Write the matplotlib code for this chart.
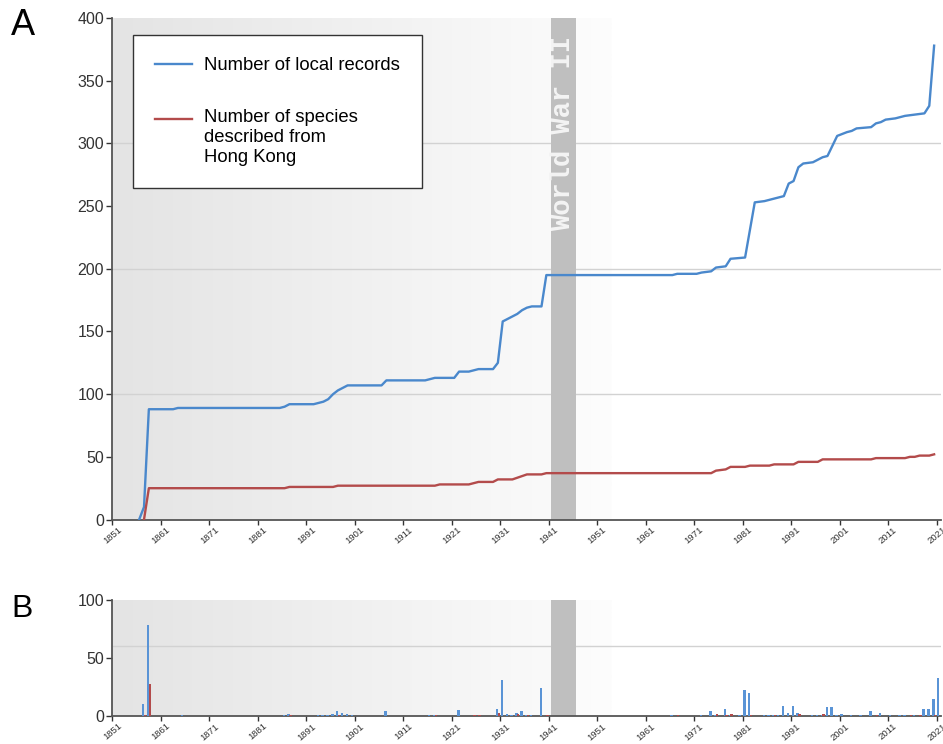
import numpy as np
import matplotlib.pyplot as plt
from matplotlib.colors import LinearSegmentedColormap

plt.rcParams['font.family'] = ['Liberation Sans', 'DejaVu Sans']

# cumulative totals, corner points of the step curves
local_years = [1856, 1857, 1858, 1863, 1864, 1885, 1886, 1887, 1892, 1894,
               1895, 1896, 1897, 1898, 1899, 1906, 1907, 1915, 1916, 1917,
               1921, 1922, 1924, 1926, 1929, 1930, 1931, 1932, 1934, 1935,
               1936, 1937, 1939, 1940, 1966, 1967, 1971, 1972, 1974, 1975,
               1977, 1978, 1981, 1982, 1983, 1985, 1987, 1989, 1990, 1991,
               1992, 1993, 1995, 1997, 1998, 2000, 2002, 2003, 2004, 2007,
               2008, 2009, 2010, 2012, 2014, 2016, 2018, 2019, 2020]
local_total = [0, 10, 88, 88, 89, 89, 90, 92, 92, 94,
               96, 100, 103, 105, 107, 107, 111, 111, 112, 113,
               113, 118, 118, 120, 120, 125, 158, 160, 164, 167,
               169, 170, 170, 195, 195, 196, 196, 197, 198, 201,
               202, 208, 209, 231, 253, 254, 256, 258, 268, 270,
               281, 284, 285, 289, 290, 306, 309, 310, 312, 313,
               316, 317, 319, 320, 322, 323, 324, 330, 378]

described_years = [1857, 1858, 1886, 1887, 1896, 1897, 1917, 1918, 1924, 1926,
                   1929, 1930, 1933, 1936, 1939, 1940, 1974, 1975, 1977, 1978,
                   1981, 1982, 1986, 1987, 1991, 1992, 1996, 1997, 2007, 2008,
                   2014, 2015, 2016, 2017, 2019, 2020]
described_total = [0, 25, 25, 26, 26, 27, 27, 28, 28, 30,
                   30, 32, 32, 36, 36, 37, 37, 39, 40, 42,
                   42, 43, 43, 44, 44, 46, 46, 48, 48, 49,
                   49, 50, 50, 51, 51, 52]

# new records per year
new_local_years = [1857, 1858, 1865, 1886, 1887, 1893, 1894, 1895, 1896, 1897,
                   1898, 1899, 1900, 1907, 1916, 1917, 1922, 1930, 1931, 1932,
                   1933, 1934, 1935, 1936, 1937, 1939, 1966, 1972, 1974, 1975,
                   1977, 1978, 1980, 1981, 1982, 1985, 1986, 1987, 1988, 1989,
                   1990, 1991, 1992, 1995, 1996, 1997, 1998, 1999, 2000, 2001,
                   2003, 2005, 2007, 2009, 2011, 2013, 2014, 2016, 2018, 2019,
                   2020, 2021]
new_local = [10, 78, 1, 1, 2, 1, 1, 1, 2, 4,
             3, 2, 1, 4, 1, 1, 5, 6, 31, 2,
             1, 3, 4, 1, 1, 24, 1, 1, 4, 1,
             6, 1, 1, 22, 20, 1, 1, 1, 1, 9,
             3, 9, 3, 1, 1, 1, 8, 8, 1, 2,
             1, 1, 4, 3, 1, 1, 1, 1, 6, 6,
             15, 33]

new_described_years = [1857, 1858, 1887, 1897, 1917, 1925, 1926, 1930, 1934, 1936,
                       1940, 1967, 1975, 1977, 1978, 1982, 1987, 1992, 1997, 2008,
                       2015, 2017, 2020]
new_described = [1, 28, 1, 1, 1, 1, 1, 3, 2, 1,
                 1, 1, 2, 1, 2, 1, 1, 2, 2, 1,
                 1, 1, 1]

tick_years = list(range(1851, 2022, 10))
war = (1941.45, 1946.6)

blue = '#4a88cc'
red = '#b34b4b'

fig = plt.figure(figsize=(9.43, 7.44), dpi=100)
axA = fig.add_axes([0.1193, 0.3017, 0.879, 0.674])
axB = fig.add_axes([0.1193, 0.0376, 0.879, 0.156])

fade = LinearSegmentedColormap.from_list('fade', ['#e4e4e4', '#fdfdfd'])


def frame(ax, top, yticks, grid):
    ax.imshow(np.linspace(0, 1, 256)[None, :], cmap=fade, aspect='auto',
              extent=(1851, 1954, 0, top), zorder=0)
    ax.set_xlim(1851, 2022)
    ax.set_ylim(0, top)
    for g in grid:
        ax.axhline(g, color='#d2d2d2', lw=1, zorder=1)
    ax.axvspan(*war, color='#bfbfbf', lw=0, zorder=2)
    ax.set_xticks(tick_years)
    ax.set_xticklabels([str(y) for y in tick_years], rotation=40,
                       fontsize=6.8, ha='center')
    ax.set_yticks(yticks)
    ax.tick_params(axis='x', length=3.5, width=1, pad=0.5, colors='#333333')
    ax.tick_params(axis='y', length=4, width=1, pad=2, labelsize=11.5,
                   colors='#333333')
    for s in ('top', 'right'):
        ax.spines[s].set_visible(False)
    for s in ('left', 'bottom'):
        ax.spines[s].set_color('#555555')
        ax.spines[s].set_linewidth(1.3)


frame(axA, 400, range(0, 401, 50), [100, 200, 300])
frame(axB, 100, [0, 50, 100], [60])

axA.plot(np.array(local_years) + 0.5, local_total, color=blue, lw=1.7,
         zorder=3, label='Number of local records')
axA.plot(np.array(described_years) + 0.5, described_total, color=red, lw=1.7,
         zorder=3, label='Number of species\ndescribed from\nHong Kong')

axA.text(sum(war) / 2, 308, 'World War II', rotation=90, ha='center',
         va='center', family='Liberation Mono', weight='bold', fontsize=19.5,
         color='#f4f4f4', zorder=4)

leg = axA.legend(loc='upper left', bbox_to_anchor=(0.0247, 0.966),
                 frameon=True, fancybox=False, edgecolor='#333333',
                 framealpha=1, fontsize=13.3, borderpad=1.2,
                 labelspacing=1.9, handlelength=2.0, handletextpad=0.65,
                 borderaxespad=0)
leg.get_frame().set_linewidth(1.0)
# put the red handle next to the first line of its label
red_handle = leg.get_lines()[1]
red_handle.set_ydata(np.asarray(red_handle.get_ydata()) + 13.2)

axB.bar(np.array(new_local_years) + 0.35, new_local, width=0.5,
        color='#5a94d6', lw=0, zorder=3)
axB.bar(np.array(new_described_years) + 0.7, new_described, width=0.5,
        color=red, lw=0, zorder=3)

fig.text(0.012, 0.966, 'A', fontsize=26, va='center', ha='left')
fig.text(0.012, 0.181, 'B', fontsize=23, va='center', ha='left')

fig.savefig('out.png', dpi=100)
